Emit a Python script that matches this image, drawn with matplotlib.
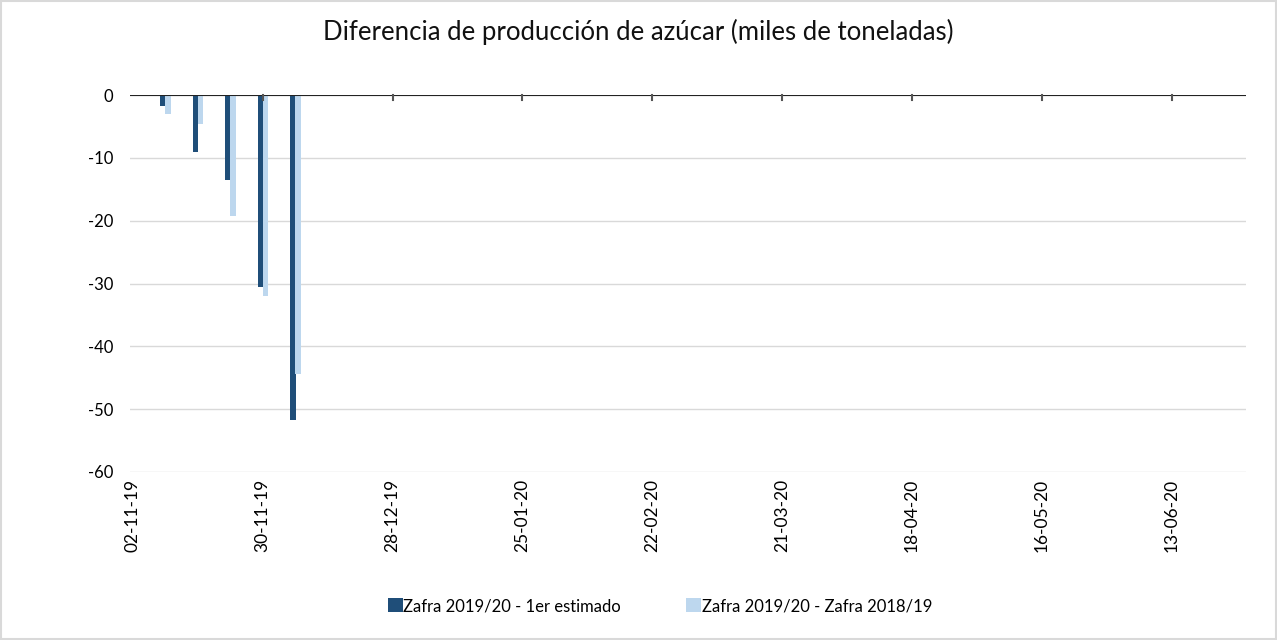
import matplotlib
matplotlib.use("Agg")
import matplotlib.pyplot as plt
import matplotlib.dates as mdates
import numpy as np
import datetime as dt
from matplotlib.patches import Rectangle

plt.rcParams['font.family'] = ['Lato', 'DejaVu Sans']

dates = ["09-11-19", "16-11-19", "23-11-19", "30-11-19", "07-12-19"]
dif_estimado = [-1.7, -9.0, -13.5, -30.5, -51.8]
dif_zafra = [-3.0, -4.6, -19.3, -32.0, -44.4]
tick_labels = ["02-11-19", "30-11-19", "28-12-19", "25-01-20", "22-02-20",
               "21-03-20", "18-04-20", "16-05-20", "13-06-20"]
series_names = ["Zafra 2019/20 - 1er estimado", "Zafra 2019/20 - Zafra 2018/19"]

dark = "#1f4e79"
light = "#bdd7ee"

fig = plt.figure(figsize=(12.77, 6.4), dpi=100)
fig.patch.set_facecolor("white")
fig.add_artist(Rectangle((0.001, 0.001), 0.998, 0.997, transform=fig.transFigure,
                         fill=False, edgecolor="#d9d9d9", linewidth=1.5))

ax = fig.add_axes([130/1277, 1-472/640, (1246-130)/1277, (472-95)/640])

x = mdates.date2num([dt.datetime.strptime(d, "%d-%m-%y") for d in dates])
w = 1.2
ax.bar(x - 0.5, dif_estimado, width=w, color=dark, label=series_names[0], zorder=3)
ax.bar(x + 0.6, dif_zafra, width=w, color=light, label=series_names[1], zorder=4)

xmin = mdates.date2num(dt.datetime(2019, 11, 2)) - 0.6
xmax = mdates.date2num(dt.datetime(2020, 6, 29))
ax.set_xlim(xmin, xmax)
ax.set_ylim(-60, 0)

ticks = mdates.date2num([dt.datetime.strptime(d, "%d-%m-%y") for d in tick_labels])
ax.set_xticks(ticks)
ax.set_xticklabels(tick_labels, rotation=90, fontsize=12.5, color="#000000")
ax.set_yticks(np.arange(-60, 1, 10))
ax.set_yticklabels([str(v) for v in range(-60, 1, 10)], fontsize=12)

for s in ["left", "right", "bottom", "top"]:
    ax.spines[s].set_visible(False)
ax.axhline(0, color="#222222", linewidth=1.5, zorder=5)
ax.grid(axis="y", color="#d9d9d9", linewidth=1, zorder=0)
ax.tick_params(axis="y", length=0, pad=12)
ax.xaxis.set_ticks_position("bottom")
ax.tick_params(axis="x", length=0, pad=5)
for t in ticks[1:]:
    ax.plot([t, t], [0, -0.8], color="#555555", linewidth=1.5, zorder=6, clip_on=False)

fig.text(0.5, 1-32/640, "Diferencia de producción de azúcar (miles de toneladas)",
         ha="center", va="center", fontsize=18.5, color="#111111")

fig.legend(handles=[ax.patches[0], ax.patches[len(dates)]],
           labels=series_names, loc="center", bbox_to_anchor=(660/1277, 1-606/640),
           ncol=2, frameon=False, fontsize=12, handlelength=0.9, handleheight=0.9,
           handletextpad=0.05, columnspacing=3.9)

fig.savefig("out.png", dpi=100, facecolor="white")
